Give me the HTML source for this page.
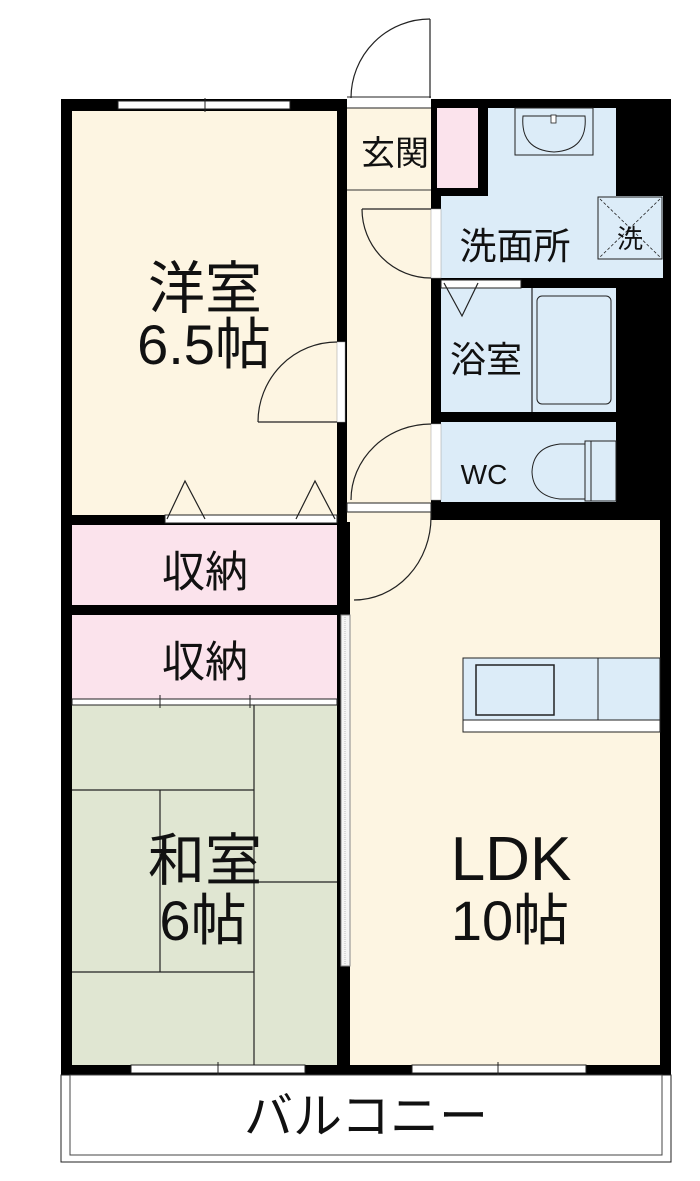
<!DOCTYPE html>
<html><head><meta charset="utf-8"><style>
html,body{margin:0;padding:0;background:#fff;}
svg{display:block}
text{font-family:"Liberation Sans","Noto Sans CJK JP",sans-serif;fill:#111;}
</style></head><body>
<svg width="700" height="1181" viewBox="0 0 700 1181" xmlns="http://www.w3.org/2000/svg">
<rect width="700" height="1181" fill="#fff"/>
<rect x="61" y="99" width="610" height="976" fill="#000"/>
<rect x="72" y="111" width="265" height="404" fill="#fdf5e2"/>
<rect x="347" y="108" width="84" height="407" fill="#fdf5e2"/>
<line x1="347" y1="190" x2="431" y2="190" stroke="#333" stroke-width="1"/>
<rect x="437" y="108" width="41" height="80" fill="#fbe3ec"/>
<rect x="488" y="108" width="128" height="90" fill="#dcecf8"/>
<rect x="441" y="196" width="222" height="82" fill="#dcecf8"/>
<rect x="441" y="288" width="175" height="124" fill="#dcecf8"/>
<rect x="441" y="422" width="175" height="80" fill="#dcecf8"/>
<rect x="72" y="525" width="265" height="80" fill="#fbe3ec"/>
<rect x="72" y="615" width="265" height="88" fill="#fbe3ec"/>
<rect x="72" y="705" width="265" height="360" fill="#e0e6d2"/>
<rect x="350" y="520" width="310" height="545" fill="#fdf5e2"/>
<rect x="347" y="512" width="84" height="10" fill="#fdf5e2"/>
<g stroke="#222" stroke-width="1.2" fill="none">
<line x1="254" y1="705" x2="254" y2="1065"/>
<line x1="72" y1="790" x2="254" y2="790"/>
<line x1="72" y1="972" x2="254" y2="972"/>
<line x1="160" y1="790" x2="160" y2="972"/>
<line x1="254" y1="882" x2="337" y2="882"/>
</g>
<rect x="72" y="699" width="265" height="6" fill="#fff" stroke="#222" stroke-width="1"/>
<line x1="160" y1="695" x2="160" y2="708" stroke="#222"/>
<line x1="250" y1="695" x2="250" y2="708" stroke="#222"/>
<rect x="118" y="101" width="172" height="8" fill="#fff" stroke="#222" stroke-width="1"/>
<line x1="205" y1="98" x2="205" y2="112" stroke="#222"/>
<rect x="347" y="97" width="84" height="11" fill="#fff"/>
<line x1="347" y1="97" x2="431" y2="97" stroke="#222"/>
<line x1="347" y1="108" x2="431" y2="108" stroke="#222"/>
<g stroke="#222" stroke-width="1.2" fill="none">
<line x1="430" y1="19" x2="430" y2="98"/>
<path d="M430 19 A79 79 0 0 0 351 98"/>
</g>
<rect x="337" y="342" width="8" height="80" fill="#fff" stroke="#999" stroke-width="0.5"/>
<g stroke="#222" stroke-width="1.2" fill="none">
<line x1="258" y1="422" x2="337" y2="422"/>
<path d="M337 342 A79 80 0 0 0 258 422"/>
</g>
<rect x="165" y="515" width="172" height="8" fill="#fff" stroke="#222" stroke-width="1"/>
<g stroke="#222" stroke-width="1.2" fill="none">
<path d="M167 519 L185 481 L205 519"/>
<path d="M296 519 L315 481 L335 519"/>
</g>
<rect x="431" y="209" width="10" height="69" fill="#fff" stroke="#999" stroke-width="0.5"/>
<g stroke="#222" stroke-width="1.2" fill="none">
<line x1="362" y1="209" x2="431" y2="209"/>
<path d="M362 209 A69 69 0 0 0 431 278"/>
</g>
<rect x="431" y="424" width="10" height="76" fill="#fff" stroke="#999" stroke-width="0.5"/>
<g stroke="#222" stroke-width="1.2" fill="none">
<path d="M431 424 A80 76 0 0 0 351 500"/>
</g>
<rect x="347" y="503" width="84" height="9" fill="#fff" stroke="#222" stroke-width="1"/>
<g stroke="#222" stroke-width="1.2" fill="none">
<path d="M431 517 A77 83 0 0 1 354 600"/>
<line x1="431" y1="512" x2="431" y2="517"/>
</g>
<rect x="441" y="280" width="80" height="8" fill="#fff" stroke="#222" stroke-width="1"/>
<path d="M444 283 L462 316 L478 283" stroke="#222" stroke-width="1.2" fill="none"/>
<rect x="515" y="108" width="78" height="47" fill="#dcecf8" stroke="#222" stroke-width="1"/>
<path d="M523 116 L585 116 Q588 150 554 152 Q520 150 523 116 Z" fill="#dcecf8" stroke="#222" stroke-width="1"/>
<rect x="551" y="115" width="5" height="8" fill="#fff" stroke="#222" stroke-width="0.8"/>
<rect x="598" y="197" width="64" height="62" fill="#dcecf8" stroke="#222" stroke-width="1"/>
<g stroke="#222" stroke-width="0.8" stroke-dasharray="3,2"><line x1="600" y1="199" x2="660" y2="257"/><line x1="660" y1="199" x2="600" y2="257"/></g>
<line x1="532" y1="288" x2="532" y2="412" stroke="#222" stroke-width="1.2"/>
<rect x="537" y="296" width="74" height="108" rx="5" fill="#dcecf8" stroke="#222" stroke-width="1"/>
<path d="M585 444 L560 444 Q533 447 532 472 Q533 496 560 499 L585 499 Z" fill="#dcecf8" stroke="#222" stroke-width="1"/>
<rect x="585" y="441" width="6" height="60" fill="#dcecf8" stroke="#222" stroke-width="1"/>
<rect x="591" y="441" width="25" height="60" fill="#dcecf8" stroke="#222" stroke-width="1"/>
<rect x="341" y="615" width="9" height="351" fill="#f4f4f4" stroke="#888" stroke-width="1"/>
<line x1="345" y1="615" x2="345" y2="966" stroke="#bbb" stroke-dasharray="1,1"/>
<rect x="463" y="658" width="197" height="74" fill="#dcecf8" stroke="#222" stroke-width="1"/>
<rect x="463" y="720" width="197" height="12" fill="#fff" stroke="#222" stroke-width="1"/>
<rect x="476" y="665" width="78" height="50" fill="#dcecf8" stroke="#222" stroke-width="1.5"/>
<line x1="598" y1="658" x2="598" y2="720" stroke="#222" stroke-width="1"/>
<rect x="131" y="1065" width="174" height="8" fill="#fff" stroke="#222" stroke-width="1"/>
<line x1="218" y1="1062" x2="218" y2="1076" stroke="#222"/>
<rect x="412" y="1065" width="174" height="8" fill="#fff" stroke="#222" stroke-width="1"/>
<line x1="498" y1="1062" x2="498" y2="1076" stroke="#222"/>
<rect x="61" y="1075" width="610" height="87" fill="#fff" stroke="#222" stroke-width="1"/>
<rect x="70" y="1075" width="592" height="80" fill="none" stroke="#444" stroke-width="1"/>
<text x="205" y="308" font-size="57" text-anchor="middle">洋室</text>
<text x="204" y="364" font-size="56" text-anchor="middle">6.5帖</text>
<text x="395" y="165" font-size="34" text-anchor="middle">玄関</text>
<text x="515" y="259" font-size="37" text-anchor="middle">洗面所</text>
<text x="630" y="248" font-size="26" text-anchor="middle">洗</text>
<text x="486" y="372" font-size="36" text-anchor="middle">浴室</text>
<text x="484" y="484" font-size="28" text-anchor="middle">WC</text>
<text x="205" y="587" font-size="43" text-anchor="middle">収納</text>
<text x="205" y="677" font-size="43" text-anchor="middle">収納</text>
<text x="205" y="880" font-size="57" text-anchor="middle">和室</text>
<text x="203" y="940" font-size="56" text-anchor="middle">6帖</text>
<text x="511" y="880" font-size="62" text-anchor="middle">LDK</text>
<text x="510" y="940" font-size="56" text-anchor="middle">10帖</text>
<text x="366" y="1133" font-size="49" text-anchor="middle">バルコニー</text>
</svg>
</body></html>
